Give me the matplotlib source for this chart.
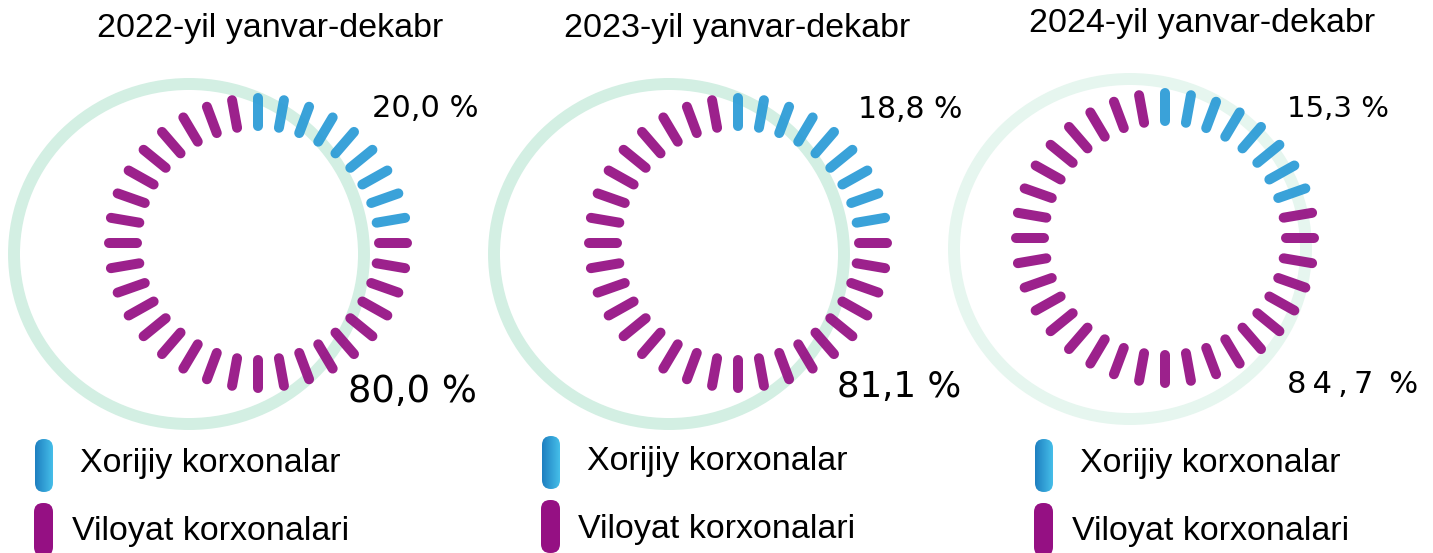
import numpy as np
import matplotlib
matplotlib.use('Agg')
import matplotlib.pyplot as plt
from matplotlib.patches import Ellipse, FancyBboxPatch
from matplotlib.colors import LinearSegmentedColormap

W, H = 1433, 553

years = ['2022', '2023', '2024']
foreign_share = [20.0, 18.8, 15.3]
local_share = [80.0, 81.1, 84.7]
foreign_ticks = [9, 9, 8]
n_ticks = 36
legend_labels = ['Xorijiy korxonalar', 'Viloyat korxonalari']

PURPLE = '#951083'
BLUE = '#2b9bd7'
BLUE_DARK = '#1e7fc0'
BLUE_LIGHT = '#45bee9'

# panel layout in pixels
tick_centers = [(258, 243), (738, 243), (1165, 238)]
tick_r = (117, 145)
tick_sx = 1.03
ring_centers = [(189, 254), (669, 254), (1130, 249)]
ring_r = [(175, 170), (175, 170), (176, 170)]
ring_colors = ['#d3efe3', '#d3efe3', '#e6f6ef']
title_pos = [(270, 37), (737, 37), (1202, 32)]
top_lbl = [(372, 117, 22), (858, 118, 21.5), (1287, 117, 21)]
bot_lbl = [(348, 402, 26.6), (837, 397, 25.7), (1287, 393, 22)]
legend_x = [(35, 80, 72), (542, 587, 578), (1035, 1080, 1072)]
legend_y = [(439, 472, 503, 540), (436, 470, 500, 538), (439, 472, 503, 540)]


def fmt(v):
    return f'{v:.1f}'.replace('.', ',') + ' %'


def spaced(v):
    num = f'{v:.1f}'.replace('.', ',')
    return '\u2009'.join(num) + '\u2009 %'


fig = plt.figure(figsize=(W / 100, H / 100), dpi=100)
ax = fig.add_axes([0, 0, 1, 1])
blue_cmap = LinearSegmentedColormap.from_list('b', [BLUE_DARK, BLUE_LIGHT])


def gradient_bar(x0, y0, w, h, cmap=None, color=None):
    box = FancyBboxPatch((x0, y0), w, h, boxstyle='round,pad=0,rounding_size=9',
                         linewidth=0, facecolor=color if color else 'none')
    ax.add_patch(box)
    if cmap is not None:
        grad = np.linspace(0, 1, 64).reshape(1, -1)
        im = ax.imshow(grad, cmap=cmap, extent=(x0, x0 + w, y0, y0 + h),
                       aspect='auto', zorder=3)
        im.set_clip_path(box)


for i, year in enumerate(years):
    rx, ry = ring_r[i]
    ax.add_patch(Ellipse(ring_centers[i], 2 * rx, 2 * ry, fill=False,
                         edgecolor=ring_colors[i], linewidth=8.6, zorder=1))

    cx, cy = tick_centers[i]
    for k in range(n_ticks):
        a = np.deg2rad(90 - 360 / n_ticks * k)
        xs = [cx + tick_sx * r * np.cos(a) for r in tick_r]
        ys = [cy - r * np.sin(a) for r in tick_r]
        c = BLUE if k < foreign_ticks[i] else PURPLE
        ax.plot(xs, ys, color=c, lw=7.2, solid_capstyle='round', alpha=0.93, zorder=2)

    tx, ty = title_pos[i]
    ax.text(tx, ty, f'{year}-yil yanvar-dekabr', ha='center', va='baseline',
            fontsize=24.5, family='Liberation Sans')

    x, y, fs = top_lbl[i]
    ax.text(x, y, fmt(foreign_share[i]), ha='left', va='baseline',
            fontsize=fs, family='DejaVu Sans')
    x, y, fs = bot_lbl[i]
    s = spaced(local_share[i]) if i == 2 else fmt(local_share[i])
    ax.text(x, y, s, ha='left', va='baseline', fontsize=fs, family='DejaVu Sans')

    bx, t1x, t2x = legend_x[i]
    by1, b1, by2, b2 = legend_y[i]
    gradient_bar(bx, by1, 18, 53, cmap=blue_cmap)
    gradient_bar(bx - 1, by2, 19, 53, color=PURPLE)
    ax.text(t1x, b1, legend_labels[0], ha='left', va='baseline',
            fontsize=24.5, family='Liberation Sans')
    ax.text(t2x, b2, legend_labels[1], ha='left', va='baseline',
            fontsize=24.5, family='Liberation Sans')

ax.set_xlim(0, W)
ax.set_ylim(H, 0)
ax.axis('off')
fig.savefig('out.png', dpi=100, facecolor='white')
